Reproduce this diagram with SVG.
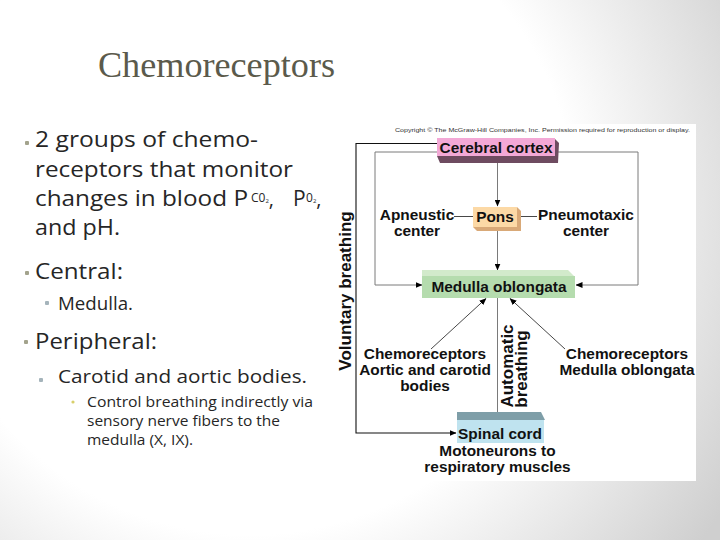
<svg xmlns="http://www.w3.org/2000/svg" width="720" height="540" viewBox="0 0 720 540">
<defs>
<radialGradient id="bg" cx="250" cy="210" r="560" gradientUnits="userSpaceOnUse">
<stop offset="0" stop-color="#ffffff"/>
<stop offset="0.58" stop-color="#ffffff"/>
<stop offset="1" stop-color="#cfcfcf"/>
</radialGradient>
<marker id="ah" markerWidth="7" markerHeight="6" refX="6.5" refY="3" orient="auto" markerUnits="userSpaceOnUse">
<path d="M0,0 L7,3 L0,6 Z" fill="#000"/>
</marker>
<style>
.sl{font-family:"Open Sans",Lato,sans-serif;fill:#262626}
.ti{font-family:"Liberation Serif",serif;fill:#5b5a4b}
.d{font-family:"Liberation Sans",Arial,sans-serif;font-weight:bold;font-size:15.4px;fill:#111;text-anchor:middle}
.r{font-family:"Liberation Sans",Arial,sans-serif;font-weight:bold;font-size:17px;fill:#111;text-anchor:middle}
.g{fill:none;stroke:#7a7a7a;stroke-width:1}
.k{fill:none;stroke:#111;stroke-width:1.1}
.t{fill:none;stroke:#333;stroke-width:0.9}
</style>
</defs>
<rect width="720" height="540" fill="url(#bg)"/>

<g id="slide-text">
<text class="ti" x="98" y="77" font-size="36" textLength="237" lengthAdjust="spacingAndGlyphs">Chemoreceptors</text>
<rect x="25" y="141" width="4" height="4" rx="1" fill="#a3a38c"/>
<text class="sl" x="35" y="147" font-size="22" textLength="223" lengthAdjust="spacingAndGlyphs">2 groups of chemo-</text>
<text class="sl" x="35" y="176.5" font-size="22" textLength="258" lengthAdjust="spacingAndGlyphs">receptors that monitor</text>
<text class="sl" x="35" y="205.5" font-size="22" textLength="213" lengthAdjust="spacingAndGlyphs">changes in blood P</text>
<text class="sl" x="251" y="202" font-size="12">C0<tspan font-size="6" dy="1">2</tspan><tspan font-size="20" dy="2.5">,</tspan></text>
<text class="sl" x="293" y="205.5" font-size="21">P</text>
<text class="sl" x="306" y="202" font-size="12">0<tspan font-size="6" dy="1">2</tspan><tspan font-size="20" dy="2.5">,</tspan></text>
<text class="sl" x="35" y="235" font-size="22" textLength="85" lengthAdjust="spacingAndGlyphs">and pH.</text>
<rect x="25" y="271" width="4" height="4" rx="1" fill="#a3a38c"/>
<text class="sl" x="35" y="279" font-size="22" textLength="88" lengthAdjust="spacingAndGlyphs">Central:</text>
<rect x="45" y="301" width="4" height="4" rx="1" fill="#a5b4bb"/>
<text class="sl" x="58" y="310" font-size="17.5" textLength="75" lengthAdjust="spacingAndGlyphs">Medulla.</text>
<rect x="24" y="340" width="4" height="4" rx="1" fill="#a3a38c"/>
<text class="sl" x="35" y="348.5" font-size="22" textLength="122" lengthAdjust="spacingAndGlyphs">Peripheral:</text>
<rect x="39" y="378" width="4" height="4" rx="1" fill="#a5b4bb"/>
<text class="sl" x="58" y="383" font-size="19" textLength="249" lengthAdjust="spacingAndGlyphs">Carotid and aortic bodies.</text>
<circle cx="73" cy="402" r="1.6" fill="#d8cf6a"/>
<text class="sl" x="87" y="407" font-size="14" textLength="226" lengthAdjust="spacingAndGlyphs">Control breathing indirectly via</text>
<text class="sl" x="87" y="426" font-size="14" textLength="193" lengthAdjust="spacingAndGlyphs">sensory nerve fibers to the</text>
<text class="sl" x="87" y="445" font-size="14" textLength="106" lengthAdjust="spacingAndGlyphs">medulla (X, IX).</text>
</g>

<rect x="336" y="124" width="360" height="357" fill="#ffffff"/>
<text x="395" y="132" font-family="Liberation Sans, Arial, sans-serif" font-size="5.6" fill="#333" textLength="295" lengthAdjust="spacingAndGlyphs">Copyright © The McGraw-Hill Companies, Inc. Permission required for reproduction or display.</text>

<g id="connectors">
<path class="g" d="M375,152 H638"/>
<path class="g" d="M375,152 V285 H422" marker-end="url(#ah)"/>
<path class="g" d="M638,152 V285 H576" marker-end="url(#ah)"/>
<path class="k" d="M437,143.5 H356 V433 H456" marker-end="url(#ah)"/>
<path class="g" d="M497.5,157 V206" marker-end="url(#ah)"/>
<path class="g" d="M497.5,231 V270" marker-end="url(#ah)"/>
<path class="g" d="M497.5,298 V419" marker-end="url(#ah)"/>
<path class="t" d="M454,216.5 H473"/>
<path class="t" d="M521,216.5 H537"/>
<path class="t" d="M431,349 L486,298.5" marker-end="url(#ah)"/>
<path class="t" d="M565,349 L510,298.5" marker-end="url(#ah)"/>
</g>

<g id="cerebral-cortex">
<polygon points="437,156 555,156 555,139 559,143 558,163 440,163" fill="#6e4b60"/>
<rect x="437" y="138" width="118" height="18" fill="#f3a8d6"/>
<text class="d" x="496" y="153">Cerebral cortex</text>
</g>

<g id="pons">
<polygon points="517,207 521,211 521,231 477,231 473,227 517,227" fill="#d9a978"/>
<rect x="473" y="207" width="44" height="20" fill="#fcd9a6"/>
<text class="d" x="495" y="222">Pons</text>
</g>

<g id="medulla-oblongata">
<polygon points="422,270 568,270 575,277 422,277" fill="#d2eacb"/>
<rect x="422" y="276" width="153" height="22" fill="#b5dcae"/>
<text class="d" x="499" y="292">Medulla oblongata</text>
</g>

<g id="spinal-cord">
<polygon points="457,412 541,412 545,420 457,420" fill="#7e9ea8"/>
<rect x="457" y="420" width="87" height="23" fill="#bfe3ef"/>
<text class="d" x="500" y="438.5">Spinal cord</text>
<text class="d" x="497.5" y="455.5">Motoneurons to</text>
<text class="d" x="497.5" y="471.5">respiratory muscles</text>
</g>

<g id="apneustic-center">
<text class="d" x="417" y="220">Apneustic</text>
<text class="d" x="417" y="236">center</text>
</g>

<g id="pneumotaxic-center">
<text class="d" x="586" y="220">Pneumotaxic</text>
<text class="d" x="586" y="236">center</text>
</g>

<g id="peripheral-chemoreceptors">
<text class="d" x="425" y="358.5">Chemoreceptors</text>
<text class="d" x="425" y="375">Aortic and carotid</text>
<text class="d" x="425" y="391">bodies</text>
</g>

<g id="central-chemoreceptors">
<text class="d" x="627" y="358.5">Chemoreceptors</text>
<text class="d" x="627" y="375">Medulla oblongata</text>
</g>

<g id="labels">
<text class="r" transform="translate(351,291) rotate(-90)">Voluntary breathing</text>
<text class="r" transform="translate(513,366) rotate(-90)">Automatic</text>
<text class="r" transform="translate(526.5,369) rotate(-90)">breathing</text>
</g>
</svg>
